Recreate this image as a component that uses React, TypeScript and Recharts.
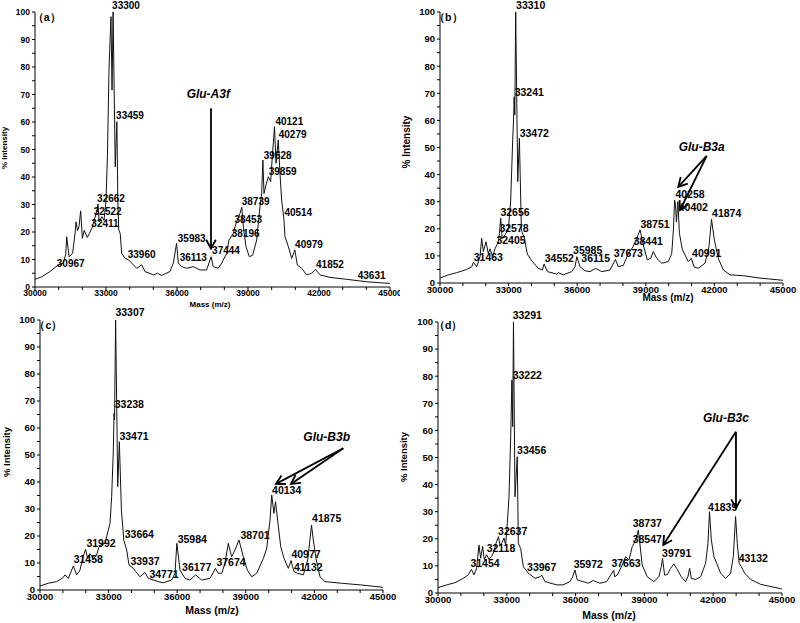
import { LineChart, Line, XAxis, YAxis, ReferenceDot, ReferenceLine } from 'recharts';

type Pt = [number, number];
type Lbl = [string, number, number];
type Seg = [number, number, number, number];

// spectra: [mass, % intensity]
const spectrumA: Pt[] = [
  [30000, 2.8], [30280, 3.7], [30630, 5.6], [30980, 8], [31200, 8.7], [31300, 12], [31339, 18.3], [31440, 11],
  [31590, 12.3], [31700, 20], [31732, 23.7], [31800, 20.5], [31860, 22], [31930, 27.7], [32000, 17.7], [32080, 20.6],
  [32210, 18], [32300, 19.5], [32411, 21.5], [32522, 25], [32600, 27], [32662, 30.2], [32710, 23.7], [32820, 25.6],
  [32915, 24.2], [33000, 31.5], [33060, 47.4], [33130, 80], [33210, 98.3], [33255, 71.6], [33300, 100], [33390, 43.7],
  [33459, 60.1], [33500, 31.5], [33540, 20.7], [33600, 19.5], [33662, 12.3], [33800, 10.5], [33960, 9.8], [34084, 8.7],
  [34296, 6.8], [34507, 8.1], [34648, 5.6], [35000, 4.4], [35180, 5], [35350, 4.2], [35700, 5.6], [35845, 8.7],
  [35983, 15.9], [36056, 8.7], [36200, 7.4], [36410, 6.8], [36690, 7.4], [36970, 6.2], [37250, 6.2], [37444, 11],
  [37530, 7.4], [37746, 6.8], [37887, 8.7], [38100, 12.2], [38196, 17.1], [38380, 19.5], [38453, 22], [38520, 23.7],
  [38662, 26.8], [38739, 29], [38803, 21.9], [38915, 14.7], [39056, 11], [39197, 11.6], [39366, 17.1], [39506, 29.2],
  [39577, 34], [39628, 46.2], [39676, 34], [39760, 37.1], [39859, 40.1], [39958, 38.3], [40026, 47.4], [40121, 58.3],
  [40183, 45], [40279, 53.5], [40352, 41.3], [40422, 31.6], [40514, 25], [40563, 18.3], [40704, 14.7], [40845, 10.4],
  [40979, 13.5], [41083, 8], [41267, 6.8], [41479, 4.4], [41690, 5], [41852, 6.4], [42042, 4.4], [42464, 3.5],
  [43169, 2.8], [44014, 1.9], [45000, 1.3],
];

const spectrumB: Pt[] = [
  [30000, 1.8], [30364, 3], [30729, 3.8], [31167, 5], [31386, 6], [31463, 7.6], [31604, 6], [31749, 9.7],
  [31822, 16.5], [31895, 11.6], [32012, 15.2], [32114, 10.8], [32187, 12.6], [32304, 9.7], [32405, 12.6], [32551, 15.2],
  [32600, 18.3], [32656, 23.9], [32720, 16.4], [32843, 17.8], [32988, 19.7], [33092, 30.6], [33179, 52.8], [33225, 62],
  [33241, 68.7], [33270, 62], [33310, 100], [33400, 37.4], [33472, 53.4], [33560, 19.4], [33690, 16.6], [33818, 10.7],
  [34010, 8.2], [34299, 5.4], [34480, 4.8], [34552, 7], [34700, 4.2], [35103, 3.3], [35180, 3.8], [35392, 3],
  [35759, 4.2], [35904, 6], [35985, 9.7], [36122, 6], [36341, 4.5], [36560, 4.2], [36809, 5.4], [37071, 4.2],
  [37434, 4.8], [37673, 8.7], [37797, 6], [38016, 6.5], [38235, 10.8], [38441, 13.4], [38600, 16.4], [38751, 19.6],
  [38891, 14], [39066, 8.5], [39215, 9.1], [39328, 11.6], [39477, 9.1], [39696, 7.3], [39984, 7.9], [40133, 10.8],
  [40210, 20], [40258, 30.6], [40300, 29], [40340, 22.5], [40402, 30], [40470, 18.3], [40600, 12.3], [40859, 7.9],
  [40991, 9.1], [41107, 6], [41295, 5.4], [41589, 7.3], [41763, 13.4], [41874, 23.5], [42000, 15.8], [42170, 9.1],
  [42389, 4.8], [42682, 3], [43264, 2.7], [43994, 1.8], [45000, 1],
];

const spectrumC: Pt[] = [
  [30000, 1.5], [30364, 2.5], [30729, 3.1], [31000, 4.5], [31093, 5.6], [31239, 4.3], [31458, 8.9], [31604, 5.6],
  [31749, 7.4], [31866, 11.7], [31992, 15.1], [32085, 11.7], [32187, 13.5], [32333, 11.7], [32479, 12.9], [32566, 15.7],
  [32654, 16.7], [32843, 17.3], [32988, 22.2], [33061, 24.7], [33134, 34.6], [33207, 51.9], [33238, 65.4], [33260, 63],
  [33307, 100], [33400, 38.3], [33471, 54.9], [33560, 29.6], [33664, 18.5], [33790, 14.8], [33892, 9.3], [34080, 8],
  [34373, 4.9], [34592, 6.5], [34736, 4.3], [35173, 3.1], [35392, 2.7], [35759, 3.7], [35904, 6.2], [35984, 17.3],
  [36122, 7.4], [36341, 4.3], [36560, 3.7], [36809, 5.6], [37071, 3.7], [37434, 4.3], [37674, 8], [37797, 6.2],
  [37950, 6.2], [38089, 9.9], [38235, 17.3], [38381, 12.3], [38527, 14.8], [38701, 18.5], [38891, 12.3], [39066, 7.4],
  [39258, 4.9], [39477, 6.2], [39768, 11.7], [39914, 15.4], [40060, 25.9], [40134, 35.2], [40230, 28.4], [40300, 32.7],
  [40424, 23.5], [40528, 16], [40672, 11.7], [40862, 8], [40977, 10.9], [41107, 6.8], [41253, 6.2], [41515, 5.6],
  [41706, 11.1], [41875, 24], [41953, 18.5], [42069, 11.7], [42244, 4.9], [42463, 3.1], [43192, 2.5], [44001, 1.9],
  [45000, 1],
];

const spectrumD: Pt[] = [
  [30000, 2], [30379, 3], [30741, 3.8], [31105, 5.4], [31323, 6.7], [31454, 8.7], [31570, 6.7], [31686, 9.1],
  [31787, 17.7], [31860, 12.8], [31947, 17.2], [32019, 12.3], [32121, 14.1], [32220, 12.5], [32339, 13.5], [32440, 15.3],
  [32527, 18.3], [32637, 20.8], [32703, 17.7], [32790, 18.5], [32877, 20.3], [32950, 17.7], [33021, 25.7], [33096, 35.5],
  [33170, 57.7], [33222, 78.6], [33257, 61.4], [33291, 100], [33357, 35.5], [33456, 50.3], [33503, 18.3], [33606, 16.4],
  [33722, 9.7], [33940, 7.3], [34232, 5.4], [34450, 6], [34522, 6.6], [34665, 4.2], [35174, 3], [35450, 3],
  [35756, 4.2], [35872, 6], [35972, 8.5], [36072, 4.8], [36333, 4.2], [36550, 3.6], [36769, 4.6], [37060, 3.6],
  [37350, 4.2], [37663, 8.4], [37700, 6], [37816, 6.6], [38034, 10.3], [38178, 13.4], [38324, 12.1], [38470, 17.1],
  [38547, 18.3], [38657, 20.7], [38737, 23.2], [38833, 15.9], [38905, 10.3], [39123, 6], [39414, 4.2], [39632, 6],
  [39737, 9.7], [39791, 12.8], [39881, 6.6], [40000, 6.8], [40142, 9.1], [40287, 10.7], [40405, 9.1], [40610, 6],
  [40798, 4.2], [40898, 6], [40972, 9.1], [41046, 5.4], [41234, 5], [41452, 6], [41670, 11], [41770, 18.3],
  [41839, 30], [41918, 19.6], [42031, 13.4], [42149, 11], [42323, 7.3], [42541, 5.4], [42759, 7.3], [42876, 13.4],
  [42976, 28.2], [43050, 18.3], [43132, 11], [43227, 9.7], [43370, 7.3], [43632, 5], [44068, 3.2], [44940, 1.6],
  [45000, 1.5],
];

// peak labels: [text, mass, intensity] (label centre)
const peaksA: Lbl[] = [
  ['33300', 33845, 102.5], ['33459', 34014, 62.3], ['32662', 33211, 32.1], ['32522', 33071, 27.6],
  ['32411', 32958, 23.2], ['30967', 31508, 8.6], ['33960', 34507, 12], ['35983', 36621, 17.5],
  ['36113', 36689, 10.7], ['37444', 38070, 13.2], ['38196', 38902, 19.5], ['38453', 39012, 24.7],
  ['38739', 39324, 31], ['39628', 40254, 47.9], ['39859', 40465, 41.9], ['40121', 40745, 60.1],
  ['40279', 40887, 55.6], ['40514', 41125, 27], ['40979', 41577, 15.3], ['41852', 42464, 8.3],
  ['43631', 44225, 4.1],
];
const peaksB: Lbl[] = [
  ['33310', 33966, 102.6], ['33241', 33905, 70.4], ['33472', 34124, 55.2], ['32656', 33280, 26.3],
  ['32578', 33236, 20.2], ['32405', 33105, 15.9], ['31463', 32114, 9.7], ['34552', 35218, 9.3],
  ['35985', 36458, 12.2], ['36115', 36808, 9.3], ['37673', 38235, 11.2], ['38441', 39109, 15.6],
  ['38751', 39402, 21.7], ['40258', 40933, 32.7], ['40402', 41078, 28.2], ['41874', 42537, 25.7],
  ['40991', 41663, 11],
];
const peaksC: Lbl[] = [
  ['33307', 33936, 103], ['33238', 33907, 68.8], ['33471', 34111, 57], ['33664', 34343, 20.7],
  ['31992', 32668, 17.5], ['31458', 32112, 11.4], ['33937', 34592, 10.9], ['34771', 35422, 5.9],
  ['35984', 36660, 19], ['36177', 36852, 8.6], ['37674', 38352, 10.2], ['38701', 39402, 20.4],
  ['40134', 40788, 37], ['41875', 42537, 26.6], ['40977', 41632, 13.2], ['41132', 41733, 8.6],
];
const peaksD: Lbl[] = [
  ['33291', 33894, 102.6], ['33222', 33894, 80.4], ['33456', 34085, 52.8], ['32637', 33256, 22.9],
  ['32118', 32747, 16.5], ['31454', 32049, 11], ['33967', 34520, 9.7], ['35972', 36553, 10.6],
  ['37663', 38197, 11], ['38737', 39125, 25.7], ['38547', 39125, 19.9], ['39791', 40407, 14.6],
  ['41839', 42413, 31.6], ['43132', 43747, 13],
];

// allele annotations and their arrows [mass1, int1, mass2, int2]
const notes: Lbl[] = [['Glu-A3f', 37323, 70.1], ['Glu-B3a', 41443, 50.3], ['Glu-B3b', 42537, 56.8], ['Glu-B3c', 42557, 64.5]];
const arrowsA: Seg[] = [[37436, 65, 37436, 14]];
const arrowsB: Seg[] = [[41663, 46.9, 40421, 35.5], [41663, 46.9, 40495, 26.9]];
const arrowsC: Seg[] = [[43264, 52.5, 40320, 39.3], [43264, 52.5, 40976, 39.3]];
const arrowsD: Seg[] = [[42993, 59.5, 39823, 17.7], [42993, 59.5, 42993, 31.3]];

const tags: Lbl[] = [['（a）', 30494, 98.3], ['（b）', 30364, 98.3], ['（c）', 30364, 98.1], ['（d）', 30449, 98.9]];

const massTicks = [30000, 31000, 32000, 33000, 34000, 35000, 36000, 37000, 38000, 39000, 40000, 41000, 42000, 43000, 44000, 45000];
const massLabels = [30000, 33000, 36000, 39000, 42000, 45000];
const intTicks = [0, 5, 10, 15, 20, 25, 30, 35, 40, 45, 50, 55, 60, 65, 70, 75, 80, 85, 90, 95, 100];
const intLabels = [0, 10, 20, 30, 40, 50, 60, 70, 80, 90, 100];

const arrowShape = (w: number) => (p: any) => {
  const { x1, y1, x2, y2 } = p;
  const a = Math.atan2(y2 - y1, x2 - x1);
  const L = 10;
  const s = 0.5;
  const ax = x2 - L * Math.cos(a - s);
  const ay = y2 - L * Math.sin(a - s);
  const bx = x2 - L * Math.cos(a + s);
  const by = y2 - L * Math.sin(a + s);
  return (
    <g>
      <line x1={x1} y1={y1} x2={x2} y2={y2} stroke="#000" strokeWidth={w} />
      <polyline points={`${ax},${ay} ${x2},${y2} ${bx},${by}`} fill="none" stroke="#000" strokeWidth={w} />
    </g>
  );
};

const textShape = (t: string, size: number, italic = false) => (p: any) => (
  <text x={p.cx} y={p.cy} textAnchor="middle" dominantBaseline="central" fontSize={size}
    fontWeight={700} fontStyle={italic ? 'italic' : 'normal'} fill="#000">{t}</text>
);

interface PanelProps {
  spectrum: Pt[];
  peaks: Lbl[];
  arrows: Seg[];
  note: Lbl;
  tag: Lbl;
  left: number;
  top: number;
  height: number;
  right: number;
  mtop: number;
  yW: number;
  xH: number;
  tickFont: number;
  peakFont: number;
}

function Panel(p: PanelProps) {
  const data = p.spectrum.map(([m, v]) => ({ m, v }));
  return (
    <div style={{ position: 'absolute', left: p.left, top: p.top }}>
      <LineChart width={400} height={p.height} data={data} margin={{ top: p.mtop, right: p.right, bottom: 0, left: 0 }}>
        <XAxis dataKey="m" type="number" domain={[30000, 45000]} ticks={massTicks} interval={0}
          tickFormatter={(v: number) => (massLabels.includes(v) ? String(v) : '')}
          height={p.xH} tickSize={3} tickMargin={0} stroke="#000"
          tick={{ fontSize: p.tickFont, fontWeight: 700, fill: '#000' }} />
        <YAxis type="number" domain={[0, 100]} ticks={intTicks} interval={0}
          tickFormatter={(v: number) => (intLabels.includes(v) ? String(v) : '')}
          width={p.yW} tickSize={3} tickMargin={2} stroke="#000"
          tick={{ fontSize: p.tickFont, fontWeight: 700, fill: '#000' }} />
        <Line dataKey="v" type="linear" stroke="#111" strokeWidth={1} dot={false} isAnimationActive={false} />
        {p.peaks.map(([t, m, v]) => (
          <ReferenceDot key={t + m} x={m} y={v} r={0} ifOverflow="visible" shape={textShape(t, p.peakFont)} />
        ))}
        <ReferenceDot x={p.tag[1]} y={p.tag[2]} r={0} ifOverflow="visible" shape={textShape(p.tag[0], 10.5)} />
        <ReferenceDot x={p.note[1]} y={p.note[2]} r={0} ifOverflow="visible" shape={textShape(p.note[0], 12, true)} />
        {p.arrows.map(([m1, v1, m2, v2], i) => (
          <ReferenceLine key={i} segment={[{ x: m1, y: v1 }, { x: m2, y: v2 }]} ifOverflow="visible"
            shape={arrowShape(1.8)} />
        ))}
      </LineChart>
    </div>
  );
}

const titleStyle = (x: number, y: number, size: number, rotate: boolean): React.CSSProperties => ({
  position: 'absolute', left: x, top: y, fontSize: size, fontWeight: 700, whiteSpace: 'nowrap', lineHeight: 1,
  transform: `translate(-50%, -50%)${rotate ? ' rotate(-90deg)' : ''}`,
});

export default function App() {
  return (
    <div style={{ position: 'absolute', left: 0, top: 0, width: 800, height: 623, background: '#fff',
      fontFamily: '"Liberation Sans", Arial, sans-serif', color: '#000', overflow: 'hidden' }}>
      <Panel spectrum={spectrumA} peaks={peaksA} arrows={arrowsA} note={notes[0]} tag={tags[0]}
        left={0} top={0} height={310} right={10} mtop={12} yW={35} xH={23} tickFont={8.5} peakFont={10} />
      <Panel spectrum={spectrumB} peaks={peaksB} arrows={arrowsB} note={notes[1]} tag={tags[1]}
        left={400} top={0} height={310} right={17} mtop={12} yW={40} xH={27} tickFont={9.5} peakFont={10.5} />
      <Panel spectrum={spectrumC} peaks={peaksC} arrows={arrowsC} note={notes[2]} tag={tags[2]}
        left={0} top={300} height={323} right={17} mtop={20} yW={40} xH={33} tickFont={9.5} peakFont={10.5} />
      <Panel spectrum={spectrumD} peaks={peaksD} arrows={arrowsD} note={notes[3]} tag={tags[3]}
        left={400} top={300} height={323} right={18} mtop={22} yW={38} xH={30} tickFont={9.5} peakFont={10.5} />
      <div style={titleStyle(5, 148, 8, true)}>% Intensity</div>
      <div style={titleStyle(407, 142, 10, true)}>% Intensity</div>
      <div style={titleStyle(7, 452, 9.5, true)}>% Intensity</div>
      <div style={titleStyle(404, 457, 9.5, true)}>% Intensity</div>
      <div style={titleStyle(210, 305, 8, false)}>Mass (m/z)</div>
      <div style={titleStyle(668, 298, 10, false)}>Mass (m/z)</div>
      <div style={titleStyle(212, 610, 10.5, false)}>Mass (m/z)</div>
      <div style={titleStyle(609, 615, 10.5, false)}>Mass (m/z)</div>
    </div>
  );
}
